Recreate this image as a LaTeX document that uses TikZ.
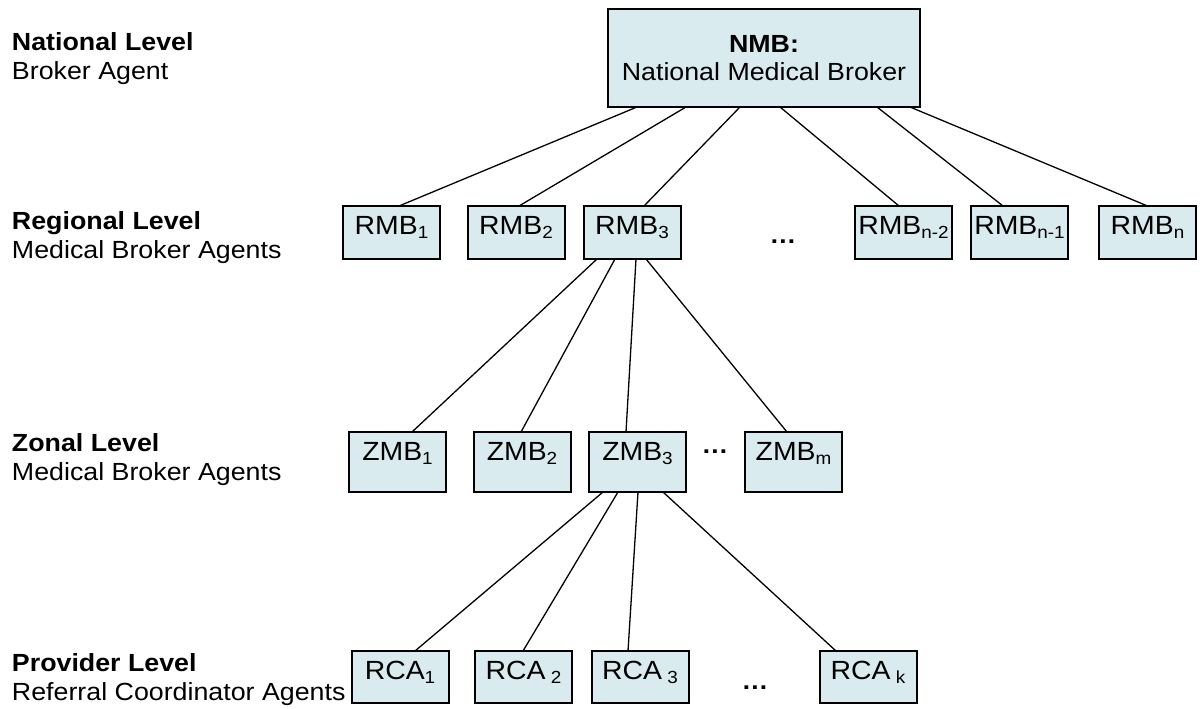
\documentclass[tikz,border=0pt]{standalone}
\usepackage{fontspec}
\setmainfont{Liberation Sans}[FakeStretch=1.08]
\usetikzlibrary{calc}
\definecolor{boxfill}{RGB}{217,235,239}
% lowered, smaller index as used in the agent names
\newcommand{\lowsub}[1]{\raisebox{-4.5pt}{\fontsize{17.5}{17.5}\selectfont #1}}

\begin{document}
\begin{tikzpicture}[x=1pt,y=-1pt,
  every node/.style={inner sep=0pt, outer sep=0pt},
  lvltext/.style={anchor=base west, font=\fontsize{24.8}{30}\selectfont},
  lvlhead/.style={anchor=base west, font=\fontsize{24.8}{30}\selectfont\bfseries},
  agent/.style={draw=black, line width=2pt, fill=boxfill, minimum width=97pt,
                text height=28pt, font=\fontsize{26.3}{30}\selectfont},
  rmbbox/.style={agent, text depth=25pt},
  zmbbox/.style={agent, text depth=32pt},
  rcabox/.style={agent, text depth=24pt},
  more/.style={anchor=base, font=\fontsize{24.8}{30}\selectfont\bfseries},
  link/.style={line width=1.3pt}
]
\useasboundingbox (0,0) rectangle (1202,709);

% level captions on the left
\node[lvlhead] (natA) at (12,51)  {National Level};
\node[lvltext] (natB) at (12,80)  {Broker Agent};
\node[lvlhead] (regA) at (12,229) {Regional Level};
\node[lvltext] (regB) at (12,258) {Medical Broker Agents};
\node[lvlhead] (zonA) at (12,451) {Zonal Level};
\node[lvltext] (zonB) at (12,480) {Medical Broker Agents};
\node[lvlhead] (proA) at (12,671) {Provider Level};
\node[lvltext] (proB) at (12,700) {Referral Coordinator Agents};

% national broker
\node[draw=black, line width=2pt, fill=boxfill, minimum width=312pt, minimum height=98pt]
  (nmb) at (764,58) {};
\node[anchor=base, font=\fontsize{24.8}{30}\selectfont\bfseries] (nmbtitle) at (764,53) {NMB:};
\node[anchor=base, font=\fontsize{24.8}{30}\selectfont] (nmbname) at (764,81) {National Medical Broker};

% regional brokers
\node[rmbbox] (rmb1) at (391.5,232.5) {RMB\lowsub{1}};
\node[rmbbox] (rmb2) at (516,232.5)   {RMB\lowsub{2}};
\node[rmbbox] (rmb3) at (632,232.5)   {RMB\lowsub{3}};
\node[more]   (rdots) at (783,243)    {…};
\node[rmbbox] (rmbn2) at (903.5,232.5)  {RMB\lowsub{n-2}};
\node[rmbbox] (rmbn1) at (1019.5,232.5) {RMB\lowsub{n-1}};
\node[rmbbox] (rmbn)  at (1147.5,232.5) {RMB\lowsub{n}};

% zonal brokers
\node[zmbbox] (zmb1) at (397.5,462) {ZMB\lowsub{1}};
\node[zmbbox] (zmb2) at (522,462)   {ZMB\lowsub{2}};
\node[zmbbox] (zmb3) at (637.5,462) {ZMB\lowsub{3}};
\node[more]   (zdots) at (715,453)  {…};
\node[zmbbox] (zmbm) at (793.5,462) {ZMB\lowsub{m}};

% referral coordinators
\node[rcabox] (rca1) at (400,677)   {RCA\lowsub{1}};
\node[rcabox] (rca2) at (523.5,677) {RCA\lowsub{\ 2}};
\node[rcabox] (rca3) at (640,677)   {RCA\lowsub{\ 3}};
\node[more]   (cdots) at (755,689)  {…};
\node[rcabox] (rcak) at (868,677)   {RCA\lowsub{\ k}};

% links national -> regional
\draw[link] ([xshift=-127pt]nmb.south) -- ([xshift=7.5pt]rmb1.north);
\draw[link] ([xshift=-78pt]nmb.south)  -- ([xshift=3pt]rmb2.north);
\draw[link] ([xshift=-24pt]nmb.south)  -- ([xshift=12pt]rmb3.north);
\draw[link] ([xshift=16pt]nmb.south)   -- ([xshift=-4.5pt]rmbn2.north);
\draw[link] ([xshift=113pt]nmb.south)  -- ([xshift=-16.5pt]rmbn1.north);
\draw[link] ([xshift=146pt]nmb.south)  -- (rmbn.north);

% links regional -> zonal
\draw[link] ([xshift=-35pt]rmb3.south) -- ([xshift=14.5pt]zmb1.north);
\draw[link] ([xshift=-17pt]rmb3.south) -- ([xshift=-1pt]zmb2.north);
\draw[link] ([xshift=4pt]rmb3.south)   -- ([xshift=-11.5pt]zmb3.north);
\draw[link] ([xshift=14pt]rmb3.south)  -- ([xshift=-6.5pt]zmbm.north);

% links zonal -> provider
\draw[link] ([xshift=-34.5pt]zmb3.south) -- ([xshift=15pt]rca1.north);
\draw[link] ([xshift=-19.5pt]zmb3.south) -- ([xshift=-0.5pt]rca2.north);
\draw[link] ([xshift=0.5pt]zmb3.south)   -- ([xshift=-12pt]rca3.north);
\draw[link] ([xshift=25.5pt]zmb3.south)  -- ([xshift=-32pt]rcak.north);
\end{tikzpicture}
\end{document}
